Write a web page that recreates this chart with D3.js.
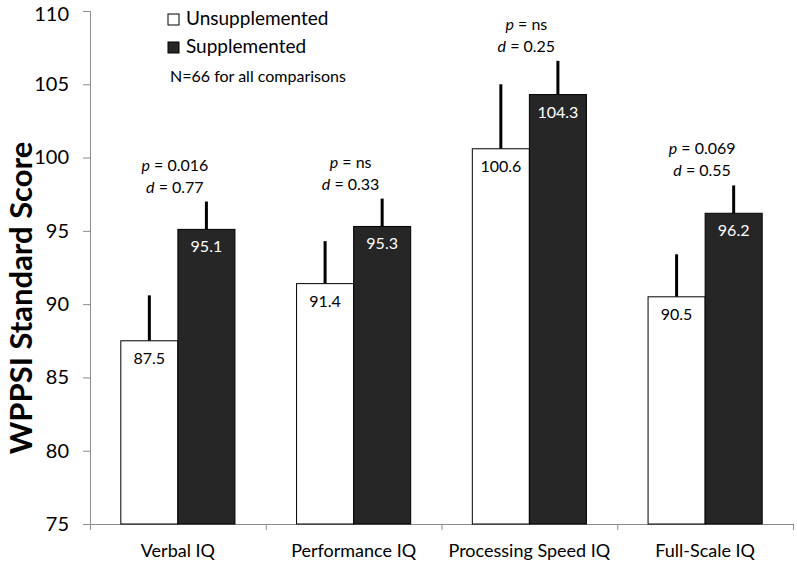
<!DOCTYPE html>
<html><head><meta charset="utf-8">
<script src="https://cdn.jsdelivr.net/npm/d3@7"></script>
<style>body{margin:0;background:#fff}svg{display:block}text{font-family:Lato,"Open Sans",sans-serif}</style>
</head><body><div id="chart"></div>
<script>
const categories = ["Verbal IQ","Performance IQ","Processing Speed IQ","Full-Scale IQ"];
const seriesNames = ["Unsupplemented","Supplemented"];
const unsupplemented = [87.5, 91.4, 100.6, 90.5];
const supplemented = [95.1, 95.3, 104.3, 96.2];
const unsuppErrTop = [90.6, 94.3, 105.0, 93.4];
const suppErrTop = [97.0, 97.2, 106.6, 98.1];
const pLabels = ["0.016","ns","ns","0.069"];
const dLabels = ["0.77","0.33","0.25","0.55"];
const yTicks = [75,80,85,90,95,100,105,110];
const note = "N=66 for all comparisons";
const colors = {Unsupplemented:"#ffffff", Supplemented:"#262626"};

const W=797,H=563;
const svg=d3.select("#chart").append("svg").attr("width",W).attr("height",H);
const x0=d3.scaleBand().domain(categories).range([90,793]).padding(0);
const x1=d3.scaleBand().domain(seriesNames).range([0,x0.bandwidth()]).paddingInner(0).paddingOuter(0.54);
const y=d3.scaleLinear().domain([75,110]).range([524,11]);
const edges=d3.scaleLinear().domain([0,categories.length]).range([90,793]);

// y axis
const ya=svg.append("g").attr("transform","translate(90,0)").call(d3.axisLeft(y).tickValues(yTicks).tickSize(7).tickPadding(14));
ya.selectAll("path,line").attr("stroke","#8c8c8c");
ya.selectAll("text").attr("font-size",20).attr("fill","#000");
ya.selectAll(".tick").filter(d=>d===110).select("text").attr("dy","0.45em");
// x axis boundaries
const xa=svg.append("g").attr("transform","translate(0,524)").call(d3.axisBottom(edges).tickValues(d3.range(categories.length+1)).tickFormat("").tickSize(6).tickSizeOuter(0));
xa.selectAll("path,line").attr("stroke","#8c8c8c");
const xl=svg.append("g").attr("transform","translate(0,524)").call(d3.axisBottom(x0).tickSize(0).tickPadding(20));
xl.select("path").remove();
xl.selectAll("text").attr("font-size",18).attr("fill","#000");

const data=categories.map((c,i)=>({c,i,vals:[
 {s:"Unsupplemented",v:unsupplemented[i],e:unsuppErrTop[i]},
 {s:"Supplemented",v:supplemented[i],e:suppErrTop[i]}]}));
const g=svg.selectAll("g.cat").data(data).join("g").attr("class","cat").attr("transform",d=>`translate(${x0(d.c)},0)`);
// error bars
g.selectAll("line.err").data(d=>d.vals).join("line").attr("class","err")
 .attr("x1",d=>x1(d.s)+x1.bandwidth()/2).attr("x2",d=>x1(d.s)+x1.bandwidth()/2)
 .attr("y1",d=>y(d.v)).attr("y2",d=>y(d.e)).attr("stroke","#000").attr("stroke-width",3);
g.selectAll("rect").data(d=>d.vals).join("rect")
 .attr("x",d=>x1(d.s)).attr("width",x1.bandwidth())
 .attr("y",d=>y(d.v)).attr("height",d=>y(75)-y(d.v))
 .attr("fill",d=>colors[d.s]).attr("stroke","#000").attr("stroke-width",1);
g.selectAll("text.val").data(d=>d.vals).join("text").attr("class","val")
 .attr("x",d=>x1(d.s)+x1.bandwidth()/2).attr("y",d=>y(d.v)+23)
 .attr("text-anchor","middle").attr("font-size",16)
 .attr("fill",d=>d.s==="Supplemented"?"#fff":"#000").text(d=>d.v.toFixed(1));
// annotations
g.each(function(d){
 const top=Math.min(y(d.vals[0].e),y(d.vals[1].e));
 const cx=x0.bandwidth()/2-3;
 const t1=d3.select(this).append("text").attr("x",cx).attr("y",top-31).attr("text-anchor","middle").attr("font-size",16);
 t1.append("tspan").attr("font-style","italic").text("p");
 t1.append("tspan").text(" = "+pLabels[d.i]);
 const t2=d3.select(this).append("text").attr("x",cx).attr("y",top-9).attr("text-anchor","middle").attr("font-size",16);
 t2.append("tspan").attr("font-style","italic").text("d");
 t2.append("tspan").text(" = "+dLabels[d.i]);
});
// y title
svg.append("text").attr("transform","translate(32,298) rotate(-90)").attr("text-anchor","middle")
 .attr("font-size",31).attr("font-weight","bold").text("WPPSI Standard Score");
// legend
const lg=svg.append("g");
seriesNames.forEach((s,i)=>{
 lg.append("rect").attr("x",168).attr("y",14+i*28).attr("width",11).attr("height",11).attr("fill",colors[s]).attr("stroke","#000");
 lg.append("text").attr("x",186).attr("y",25+i*28).attr("font-size",19).text(s);
});
lg.append("text").attr("x",170).attr("y",82).attr("font-size",16).text(note);
</script></body></html>
